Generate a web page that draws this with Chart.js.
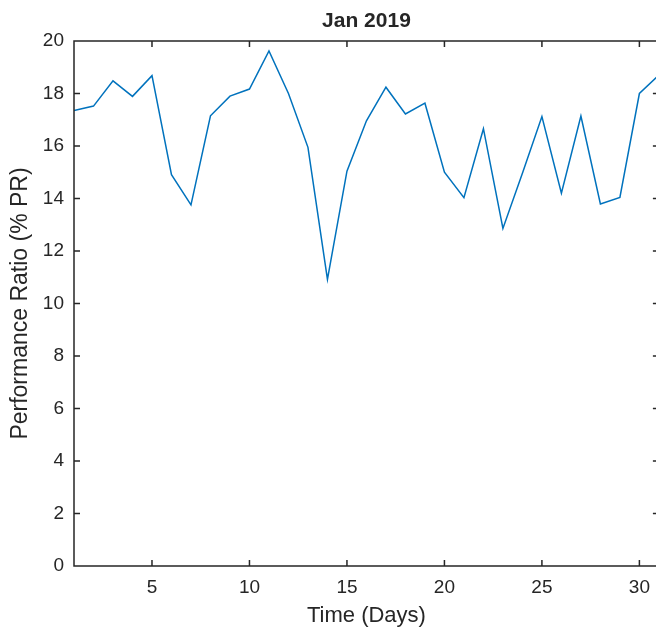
<!DOCTYPE html>
<html>
<head>
<meta charset="utf-8">
<title>Jan 2019</title>
<script src="https://cdn.jsdelivr.net/npm/chart.js@4/dist/chart.umd.min.js"></script>
<style>
    html, body {
        margin: 0;
        padding: 0;
        background: #ffffff;
        overflow: hidden;
    }
    #wrap {
        width: 660px;
        height: 630px;
    }
</style>
</head>
<body>
<div id="wrap"><canvas id="chartPR"></canvas></div>
<script>
// Datos
const days = [1, 2, 3, 4, 5, 6, 7, 8, 9, 10, 11, 12, 13, 14, 15, 16,
    17, 18, 19, 20, 21, 22, 23, 24, 25, 26, 27, 28, 29, 30, 31];
const prValues = [17.35, 17.52, 18.48, 17.89, 18.68, 14.91, 13.76, 17.15, 17.90, 18.17,
    19.62, 18.00, 15.95, 10.92, 15.04, 16.96, 18.24, 17.22, 17.63, 15.00,
    14.03, 16.66, 12.86, 14.96, 17.12, 14.20, 17.14, 13.79, 14.04, 18.00, 18.70];
const xTicks = [5, 10, 15, 20, 25, 30];
const yTicks = [0, 2, 4, 6, 8, 10, 12, 14, 16, 18, 20];

const FONT = 'Arial, "Liberation Sans", Helvetica, sans-serif';
const AXIS_COLOR = '#262626';

// Caja de ejes con marcas hacia adentro (estilo MATLAB)
const boxTicks = {
    id: 'boxTicks',
    afterDraw(chart) {
        const ctx = chart.ctx;
        const area = chart.chartArea;
        const xs = chart.scales.x;
        const ys = chart.scales.y;
        const len = 6;

        ctx.save();
        ctx.strokeStyle = AXIS_COLOR;
        ctx.lineWidth = 1.5;
        ctx.beginPath();
        ctx.rect(area.left, area.top, area.right - area.left, area.bottom - area.top);

        xTicks.forEach(v => {
            const px = xs.getPixelForValue(v);
            ctx.moveTo(px, area.bottom);
            ctx.lineTo(px, area.bottom - len);
            ctx.moveTo(px, area.top);
            ctx.lineTo(px, area.top + len);
        });
        yTicks.forEach(v => {
            const py = ys.getPixelForValue(v);
            ctx.moveTo(area.left, py);
            ctx.lineTo(area.left + len, py);
            ctx.moveTo(area.right, py);
            ctx.lineTo(area.right - len, py);
        });
        ctx.stroke();
        ctx.restore();
    }
};

const ctx = document.getElementById('chartPR');

new Chart(ctx, {
    type: 'line',
    data: {
        datasets: [{
            data: days.map((d, i) => ({ x: d, y: prValues[i] })),
            borderColor: '#0072BD',
            borderWidth: 1.5,
            pointRadius: 0,
            fill: false,
            tension: 0
        }]
    },
    options: {
        responsive: true,
        maintainAspectRatio: false,
        animation: false,
        layout: { padding: 0 },
        plugins: {
            legend: { display: false },
            tooltip: { enabled: false },
            title: {
                display: true,
                fullSize: false,
                text: 'Jan 2019',
                color: AXIS_COLOR,
                font: { family: FONT, size: 21, weight: 'bold', lineHeight: 1.2 },
                padding: { top: 8.9, bottom: 6.9 }
            }
        },
        scales: {
            x: {
                type: 'linear',
                min: 1,
                max: 31,
                afterFit: (scale) => { scale.height = 64; },
                afterBuildTicks: (scale) => { scale.ticks = xTicks.map(v => ({ value: v })); },
                grid: { display: false, drawTicks: false },
                border: { display: false },
                ticks: {
                    color: AXIS_COLOR,
                    font: { family: FONT, size: 19 },
                    padding: 10,
                    maxRotation: 0
                },
                title: {
                    display: true,
                    text: 'Time (Days)',
                    color: AXIS_COLOR,
                    font: { family: FONT, size: 22, lineHeight: 1.2 },
                    padding: { top: 0, bottom: 0.8 }
                }
            },
            y: {
                min: 0,
                max: 20,
                afterFit: (scale) => { scale.width = 74; },
                afterBuildTicks: (scale) => { scale.ticks = yTicks.map(v => ({ value: v })); },
                grid: { display: false, drawTicks: false },
                border: { display: false },
                ticks: {
                    color: AXIS_COLOR,
                    font: { family: FONT, size: 19 },
                    padding: 10
                },
                title: {
                    display: true,
                    text: 'Performance Ratio (% PR)',
                    color: AXIS_COLOR,
                    font: { family: FONT, size: 23, lineHeight: 1.2 },
                    padding: { top: 6.7, bottom: 0 }
                }
            }
        }
    },
    plugins: [boxTicks]
});
</script>
</body>
</html>
